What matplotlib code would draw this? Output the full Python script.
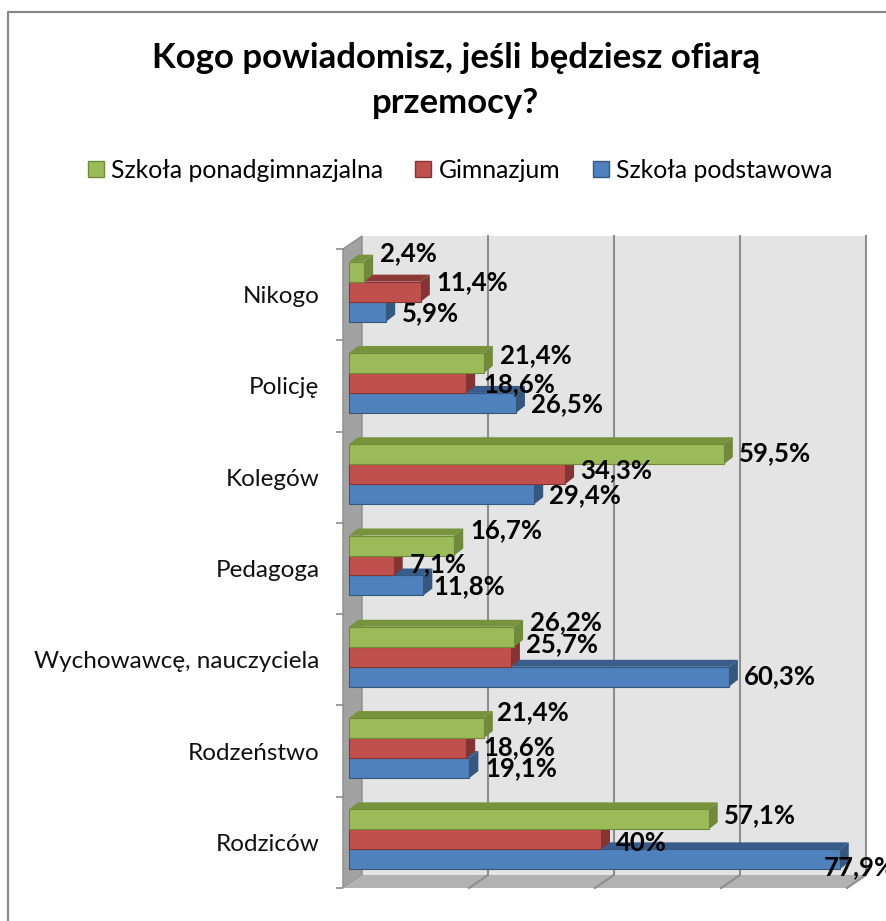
# -*- coding: utf-8 -*-
import matplotlib
matplotlib.use("Agg")
import matplotlib.pyplot as plt
from matplotlib.patches import Polygon, Patch
from matplotlib.transforms import Affine2D, IdentityTransform

plt.rcParams['font.family'] = ['Lato', 'DejaVu Sans']

categories = ['Rodziców', 'Rodzeństwo', 'Wychowawcę, nauczyciela', 'Pedagoga', 'Kolegów', 'Policję', 'Nikogo']
podstawowa = [77.9, 19.1, 60.3, 11.8, 29.4, 26.5, 5.9]
gimnazjum = [40, 18.6, 25.7, 7.1, 34.3, 18.6, 11.4]
ponadgim = [57.1, 21.4, 26.2, 16.7, 59.5, 21.4, 2.4]
grid_values = [20, 40, 60, 80]

W, H = 887, 921
fig = plt.figure(figsize=(W / 100, H / 100), dpi=100)
# axes = front plane of the 3D box
ax = fig.add_axes([343 / W, 1 - 888 / H, 504 / W, 639 / H])
ax.set_xlim(0, 80)
ax.set_ylim(-0.5, 6.5)
ax.patch.set_visible(False)
for s in ax.spines.values():
    s.set_visible(False)

px = IdentityTransform()


def disp(x, y, shift=(0, 0)):
    p = ax.transData.transform((x, y))
    return (p[0] + shift[0], p[1] + shift[1])


# walls and floor
back = (19, 13)
x0, x1, y0, y1 = 0, 80, -0.5, 6.5
ax.add_patch(Polygon([disp(x0, y0, back), disp(x1, y0, back), disp(x1, y1, back), disp(x0, y1, back)],
                     transform=px, fc='#e4e4e4', ec='none', clip_on=False, zorder=1))
ax.add_patch(Polygon([disp(x0, y0), disp(x0, y1), disp(x0, y1, back), disp(x0, y0, back)],
                     transform=px, fc='#a2a2a2', ec='#8c8c8c', lw=1, clip_on=False, zorder=1))
ax.add_patch(Polygon([disp(x0, y0), disp(x1, y0), disp(x1, y0, back), disp(x0, y0, back)],
                     transform=px, fc='#b2b2b2', ec='none', clip_on=False, zorder=1))
for v in grid_values:
    a, b, c = disp(v, y0), disp(v, y0, back), disp(v, y1, back)
    ax.plot([a[0], b[0], c[0]], [a[1], b[1], c[1]], transform=px, color='#8e8e8e', lw=1.5,
            clip_on=False, zorder=2)

# bars
h = 20 / 91.3
bar_shift = (6, 3)
bar_tr = ax.transData + Affine2D().translate(*bar_shift)
depth = (9, 7)
series = [
    (podstawowa, -h, '#4f81bd', '#385d8a', '#35587f', 'Szkoła podstawowa'),
    (gimnazjum, 0, '#c0504d', '#8c3836', '#843533', 'Gimnazjum'),
    (ponadgim, h, '#9bbb59', '#77933c', '#6f8a38', 'Szkoła ponadgimnazjalna'),
]
z = 3
for vals, off, face, top, side, name in series:
    for i, v in enumerate(vals):
        yy = i + off
        sh = bar_shift
        sd = (bar_shift[0] + depth[0], bar_shift[1] + depth[1])
        ax.add_patch(Polygon([disp(0, yy + h / 2, sh), disp(v, yy + h / 2, sh), disp(v, yy + h / 2, sd), disp(0, yy + h / 2, sd)],
                             transform=px, fc=top, ec='none', clip_on=False, zorder=z))
        ax.add_patch(Polygon([disp(v, yy - h / 2, sh), disp(v, yy + h / 2, sh), disp(v, yy + h / 2, sd), disp(v, yy - h / 2, sd)],
                             transform=px, fc=side, ec='none', clip_on=False, zorder=z))
    ax.barh([i + off for i in range(len(vals))], vals, height=h, color=face, edgecolor=side, lw=0.8,
            transform=bar_tr, clip_on=False, zorder=z + 0.5)
    z += 1

# value labels, left edge and centre height in image pixels
label_x = [[824, 485, 744, 433, 549, 531, 402],
           [616, 483, 526, 410, 580, 483, 436],
           [724, 497, 530, 470, 739, 500, 380]]
label_y = [[867, 768, 676, 586, 495, 404, 313],
           [843, 747, 644, 564, 470, 384, 282],
           [815, 712, 622, 530, 453, 355, 253]]
for (vals, *_), xs, ys in zip(series, label_x, label_y):
    for v, lx, ly in zip(vals, xs, ys):
        txt = f"{v:g}%".replace('.', ',')
        ax.text(lx, H - ly, txt, transform=px, ha='left', va='center', fontsize=18.5, fontweight='bold',
                color='black', clip_on=False, zorder=10)

# category labels and ticks
ax.set_xticks([])
ax.set_yticks(range(len(categories)))
ax.set_yticklabels(categories, fontsize=17.5, color='#111111')
ax.set_yticks([i - 0.5 for i in range(len(categories) + 1)], minor=True)
ax.tick_params(axis='y', which='major', length=0, pad=17)
ax.tick_params(axis='y', which='minor', length=5, width=1.2, color='#8c8c8c')

# title
fig.text(456 / W, 1 - 58 / H, 'Kogo powiadomisz, jeśli będziesz ofiarą', ha='center', va='center',
         fontsize=25, fontweight='bold')
fig.text(456 / W, 1 - 103 / H, 'przemocy?', ha='center', va='center', fontsize=25, fontweight='bold')

# legend
handles = [Patch(fc=s[2], ec=s[4], lw=1, label=s[5]) for s in reversed(series)]
fig.legend(handles=handles, loc='center', bbox_to_anchor=(460 / W, 1 - 170 / H), ncol=3, frameon=False,
           fontsize=17.8, handlelength=0.65, handleheight=0.65, handletextpad=0.3, columnspacing=1.3)

# outer chart border (runs off the right and bottom of the picture)
fig.add_artist(plt.Line2D([8 / W, 8 / W, 1], [0, 1 - 12 / H, 1 - 12 / H], color='#868686', lw=1.5))

fig.savefig('out.png', dpi=100)
